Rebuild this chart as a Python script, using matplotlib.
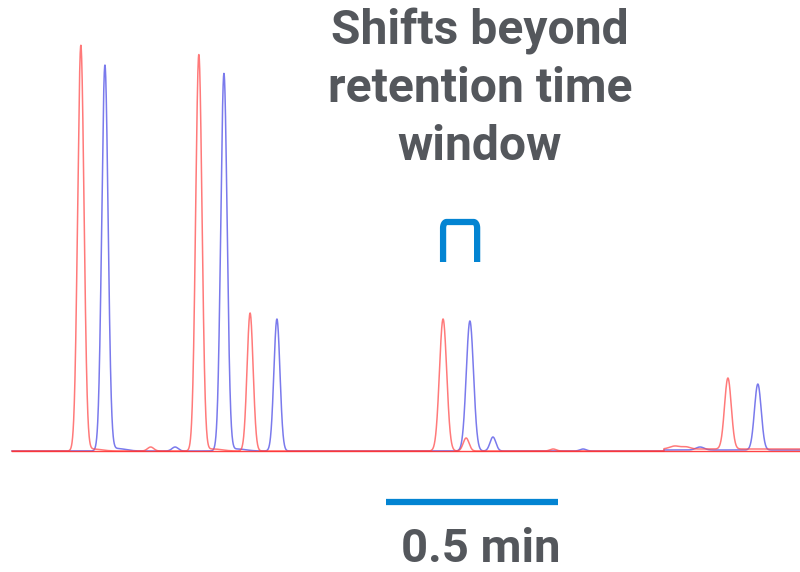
import numpy as np
import matplotlib.pyplot as plt

# peak tables: retention time (min), height (signal units), width sigma (min)
rt_red = [0.235, 0.578, 0.727, 1.288, 1.355, 1.608, 2.116, 0.438, 1.962, 1.995]
h_red = [405, 396, 138, 132, 13, 2, 71, 4, 3, 2]
w_red = [0.0092, 0.0092, 0.0088, 0.0105, 0.0085, 0.0090, 0.0098, 0.0090, 0.0150, 0.0120]

rt_blue = [0.305, 0.651, 0.805, 1.366, 1.433, 1.695, 2.203, 0.509, 2.035]
h_blue = [385, 377, 132, 130, 14, 2, 66, 4, 3]
w_blue = [0.0092, 0.0092, 0.0088, 0.0105, 0.0085, 0.0090, 0.0098, 0.0090, 0.0120]

# small tailing shoulders after the big peaks
tail_red_rt = [0.27, 0.62]
tail_red_h = [2, 2]
tail_blue_rt = [0.34, 0.69]
tail_blue_h = [2.5, 2]

t = np.linspace(0.035, 2.33, 6000)


def trace(rts, hs, ws, tail_rt, tail_h):
    y = np.zeros_like(t)
    for r, h, w in zip(rts, hs, ws):
        y += h * np.exp(-0.5 * ((t - r) / w) ** 2)
    for r, h in zip(tail_rt, tail_h):
        y += h * np.exp(-0.5 * ((t - r) / 0.025) ** 2)
    return y


red = trace(rt_red, h_red, w_red, tail_red_rt, tail_red_h)
blue = trace(rt_blue, h_blue, w_blue, tail_blue_rt, tail_blue_h)
# late baseline drift of both runs
red += 2 * (t > 1.93)
blue += 1 * (t > 1.93)

fig = plt.figure(figsize=(8, 5.72), dpi=100)
ax = fig.add_axes([0, 0, 1, 1])
ax.set_xlim(0, 800 / 344)
ax.set_ylim(-121, 451)
ax.axis('off')

ax.plot(t, blue, color='#4d4de6', lw=1.1, alpha=0.75)
ax.plot(t, red, color='#ff4d4d', lw=1.1, alpha=0.75)
ax.plot([0.035, 2.33], [0, 0], color='#ff3030', lw=1.0, alpha=0.9)

bar_blue = '#0384d2'
# retention time window bracket with rounded corners
ang = np.linspace(np.pi, np.pi / 2, 10)
r = 0.010
rr = 6
left_x = 1.288 + r + r * np.cos(ang)
left_y = 229 - rr + rr * np.sin(ang)
right_x = 1.387 - r - r * np.cos(ang[::-1])
right_y = 229 - rr + rr * np.sin(ang[::-1])
bx = np.concatenate([[1.288], left_x, right_x, [1.387]])
by = np.concatenate([[189], left_y, right_y, [189]])
ax.plot(bx, by, color=bar_blue, lw=4.5, solid_joinstyle='round', solid_capstyle='butt')
# scale bar, 0.5 min
ax.plot([1.122, 1.622], [-51, -51], color=bar_blue, lw=4.5, solid_capstyle='butt')

font = ['Roboto', 'DejaVu Sans']
ax.text(480 / 800, 1 - 89 / 572, 'Shifts beyond\nretention time\nwindow',
        transform=ax.transAxes, ha='center', va='center', family=font,
        fontweight='bold', fontsize=34.6, color='#54575c', linespacing=1.31)
ax.text(481 / 800, 1 - 549 / 572, '0.5 min', transform=ax.transAxes,
        ha='center', va='center', family=font, fontweight='bold',
        fontsize=34, color='#54575c')

fig.savefig('out.png', dpi=100)
